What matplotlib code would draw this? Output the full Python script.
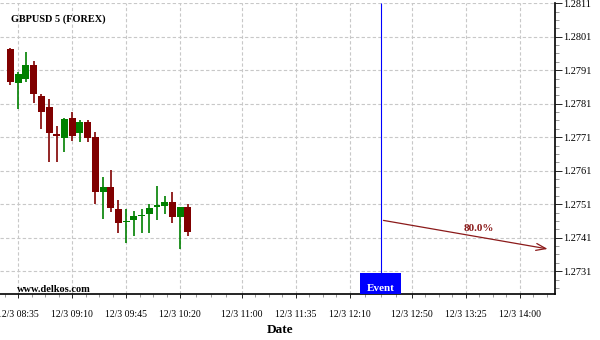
import numpy as np
import matplotlib.pyplot as plt
from matplotlib.patches import Rectangle
from matplotlib.ticker import FixedLocator

plt.rcParams['font.family'] = ['Liberation Serif', 'DejaVu Serif']

# 5 minute bars starting 12/3 08:30
opens = [1.27973, 1.27872, 1.27884, 1.27925, 1.27833, 1.27800, 1.27720, 1.27709,
         1.27767, 1.27721, 1.27756, 1.27711, 1.27545, 1.27562, 1.27496, 1.27456,
         1.27464, 1.27476, 1.27480, 1.27501, 1.27506, 1.27518, 1.27473, 1.27501]
highs = [1.27977, 1.27904, 1.27964, 1.27937, 1.27838, 1.27823, 1.27743, 1.27767,
         1.27785, 1.27761, 1.27761, 1.27726, 1.27590, 1.27612, 1.27523, 1.27496,
         1.27491, 1.27496, 1.27511, 1.27565, 1.27535, 1.27547, 1.27501, 1.27512]
lows = [1.27866, 1.27793, 1.27875, 1.27811, 1.27734, 1.27636, 1.27636, 1.27666,
        1.27699, 1.27696, 1.27696, 1.27512, 1.27466, 1.27486, 1.27424, 1.27395,
        1.27416, 1.27424, 1.27424, 1.27463, 1.27481, 1.27453, 1.27377, 1.27416]
closes = [1.27875, 1.27899, 1.27925, 1.27838, 1.27786, 1.27721, 1.27714, 1.27765,
          1.27715, 1.27756, 1.27709, 1.27545, 1.27562, 1.27498, 1.27453, 1.27461,
          1.27476, 1.27479, 1.27500, 1.27508, 1.27518, 1.27473, 1.27501, 1.27426]

tick_times = ['08:35', '09:10', '09:45', '10:20', '11:00', '11:35', '12:10',
              '12:50', '13:25', '14:00']
price_ticks = [1.2731, 1.2741, 1.2751, 1.2761, 1.2771, 1.2781, 1.2791, 1.2801, 1.2811]

event_time = '12:30'
forecast_end = ('14:20', 1.27375)
forecast_start_price = 1.27463
forecast_pct = '80.0%'


def bar_index(t):
    h, m = t.split(':')
    return (int(h) * 60 + int(m) - (8 * 60 + 30)) / 5.0


def main():
    fig = plt.figure(figsize=(6, 3.4), dpi=100)
    ax = fig.add_axes([0, 1 - 294.3 / 340, 555 / 600, (294.3 - 2.5) / 340])

    x = np.arange(len(opens))
    o = np.array(opens)
    c = np.array(closes)
    up = c >= o
    cols = np.where(up, '#008000', '#800000')

    ax.vlines(x, lows, highs, colors=cols, lw=1.2, zorder=3)
    bottoms = np.minimum(o, c)
    heights = np.maximum(np.abs(c - o), 0.000012)
    ax.bar(x, heights, bottom=bottoms, width=0.9, color=cols, zorder=4)

    xe = bar_index(event_time)
    ymin, ymax = 1.27241, 1.28112
    ax.set_xlim(-1.36, 70.6)
    ax.set_ylim(ymin, ymax)

    # event marker
    box_top = 1.27304
    ax.vlines(xe, box_top, ymax, colors='#0000ff', lw=0.8, zorder=5)
    ax.add_patch(Rectangle((xe - 2.65, ymin), 5.3, box_top - ymin,
                           facecolor='#0000ff', edgecolor='none', zorder=5, clip_on=False))
    ax.text(xe, 1.27258, 'Event', color='white', fontsize=8, fontweight='bold',
            ha='center', va='center', zorder=6)

    # forecast arrow
    ax.annotate('', xy=(bar_index(forecast_end[0]), forecast_end[1]),
                xytext=(xe, forecast_start_price),
                arrowprops=dict(arrowstyle='->,head_length=0.7,head_width=0.25',
                                color='#8b1a1a', lw=0.9), zorder=6)
    ax.text(60.7, 1.27436, forecast_pct, color='#8b1a1a', fontsize=8,
            fontweight='bold', ha='center', va='center')

    # axes styling
    ax.spines['left'].set_visible(False)
    ax.spines['top'].set_visible(False)
    ax.spines['right'].set_linewidth(1.2)
    ax.spines['bottom'].set_linewidth(1.2)
    ax.yaxis.tick_right()

    xt = [bar_index(t) for t in tick_times]
    ax.set_xticks(xt)
    ax.set_xticklabels(['12/3 ' + t for t in tick_times], fontsize=7)
    xminor = []
    for a, b in zip(xt[:-1], xt[1:]):
        xminor += [a + (b - a) * k / 4 for k in (1, 2, 3)]
    xminor += [xt[0] - (xt[1] - xt[0]) / 4, xt[-1] + (xt[-1] - xt[-2]) / 4,
               xt[-1] + (xt[-1] - xt[-2]) / 2]
    ax.xaxis.set_minor_locator(FixedLocator(xminor))

    ax.set_yticks(price_ticks)
    ax.set_yticklabels(['%.4f' % p for p in price_ticks], fontsize=7.5)
    yminor = []
    for p in price_ticks:
        yminor += [p - 0.00025 * k for k in (1, 2, 3)]
    ax.yaxis.set_minor_locator(FixedLocator(yminor))

    ax.tick_params(axis='x', which='major', length=3, width=0.6, pad=8, colors='black')
    ax.tick_params(axis='x', which='minor', length=2, width=0.6, color='#888888')
    ax.tick_params(axis='y', which='major', length=5, width=0.6, pad=1)
    ax.tick_params(axis='y', which='minor', length=3, width=0.6, color='#888888')

    ax.grid(True, which='major', ls=(0, (3, 2)), color='#c8c8c8', lw=0.8, zorder=0)
    ax.set_axisbelow(True)

    fig.text(11 / 600, 1 - 19 / 340, 'GBPUSD 5 (FOREX)', fontsize=7.4,
             fontweight='bold', va='center', ha='left')
    fig.text(17 / 600, 1 - 290 / 340, 'www.delkos.com', fontsize=7.5,
             fontweight='bold', va='center', ha='left')
    fig.text(280 / 600, 1 - 330 / 340, 'Date', fontsize=9.5,
             fontweight='bold', va='center', ha='center')

    fig.savefig('out.png', dpi=100)


if __name__ == '__main__':
    main()
